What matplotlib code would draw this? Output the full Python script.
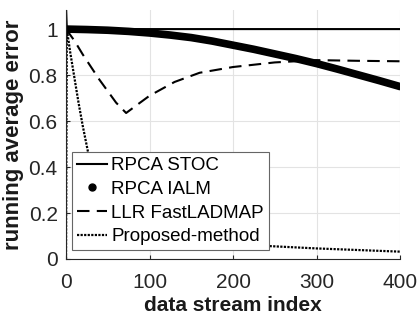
import matplotlib
matplotlib.use("Agg")
import matplotlib.pyplot as plt
from matplotlib.lines import Line2D

plt.rcParams['font.family'] = ['Liberation Sans', 'DejaVu Sans']

# data
stoc_x = [0, 1, 100, 200, 300, 400]
stoc_y = [1.10, 1.0, 1.0, 1.0, 1.0, 1.0]

ialm_x = [0, 25, 50, 75, 100, 125, 150, 175, 200, 225, 250, 275, 300, 325, 350, 375, 400]
ialm_y = [1.0, 0.998, 0.995, 0.99, 0.983, 0.974, 0.963, 0.948, 0.930, 0.912, 0.892, 0.872, 0.850, 0.826, 0.801, 0.776, 0.750]

llr_x = [0, 10, 20, 40, 60, 72, 85, 100, 130, 160, 200, 250, 300, 350, 400]
llr_y = [1.0, 0.95, 0.89, 0.78, 0.68, 0.635, 0.67, 0.71, 0.77, 0.81, 0.835, 0.855, 0.865, 0.862, 0.86]

prop_x = [0, 1, 5, 10, 15, 20, 25, 30, 40, 50, 75, 100, 150, 200, 250, 300, 350, 400]
prop_y = [0.0, 1.0, 0.90, 0.79, 0.68, 0.58, 0.49, 0.40, 0.25, 0.16, 0.105, 0.088, 0.074, 0.064, 0.055, 0.046, 0.039, 0.032]

labels = ['RPCA STOC', 'RPCA IALM', 'LLR FastLADMAP', 'Proposed-method']
xticks = [0, 100, 200, 300, 400]
yticks = [0, 0.2, 0.4, 0.6, 0.8, 1]
ytick_labels = ['0', '0.2', '0.4', '0.6', '0.8', '1']

fig = plt.figure(figsize=(4.19, 3.2), dpi=100)
ax = fig.add_axes([66/419, 1 - 259/320, 334/419, 249/320])

ax.plot(stoc_x, stoc_y, color='black', lw=1.5, solid_capstyle='butt')
ax.plot(ialm_x, ialm_y, color='black', lw=5.5, solid_capstyle='round', solid_joinstyle='round')
ax.plot(llr_x, llr_y, color='black', lw=1.5, dashes=(6, 3.5))
ax.plot(prop_x, prop_y, color='black', lw=1.6, dashes=(1, 0.6))

ax.set_xlim(0, 400)
ax.set_ylim(0, 1.083)
ax.set_xticks(xticks)
ax.set_yticks(yticks)
ax.set_yticklabels(ytick_labels)
ax.tick_params(direction='in', length=3, labelsize=15, width=0.8, colors='#262626')
ax.tick_params(axis='x', pad=10)
ax.tick_params(axis='y', pad=6)
ax.grid(True, color='#e3e3e3', lw=0.8)
ax.set_axisbelow(True)
for s in ['top', 'right']:
    ax.spines[s].set_visible(False)
for s in ['left', 'bottom']:
    ax.spines[s].set_color('#262626')
    ax.spines[s].set_linewidth(0.8)

ax.set_xlabel('data stream index', fontsize=15, fontweight='bold', labelpad=3, color='#1a1a1a')
ax.set_ylabel('running average error', fontsize=16, fontweight='bold', labelpad=3, color='#1a1a1a')

handles = [
    Line2D([], [], color='black', lw=1.5),
    Line2D([], [], color='black', ls='none', marker='.', markersize=10),
    Line2D([], [], color='black', lw=1.5, dashes=(6, 3.5)),
    Line2D([], [], color='black', lw=1.6, dashes=(1, 0.6)),
]
leg = ax.legend(handles, labels, loc='lower left', bbox_to_anchor=(0.018, 0.036),
                fontsize=13.5, frameon=True, fancybox=False, framealpha=1,
                edgecolor='#666666', handlelength=1.6, handletextpad=0.25,
                labelspacing=0.35, borderpad=0.25, borderaxespad=0)
leg.get_frame().set_linewidth(0.8)

fig.savefig('out.png', dpi=100)
